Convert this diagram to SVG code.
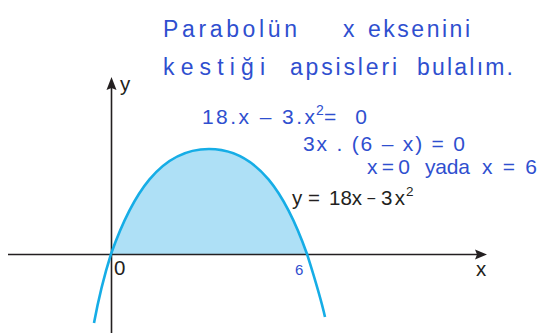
<svg xmlns="http://www.w3.org/2000/svg" width="539" height="333" viewBox="0 0 539 333">
<style>
.hw{font-family:"Liberation Sans","DejaVu Sans",sans-serif;font-size:21px;fill:#2f4fcf;}
.big{font-size:23px;}
.lb{font-family:"Liberation Sans",Arial,sans-serif;font-size:20.5px;fill:#231f20;}
.ax{stroke:#231f20;stroke-width:1.6;fill:none;}
.ah{fill:#231f20;}
</style>
<rect width="539" height="333" fill="#ffffff"/>
<g id="area">
<path d="M111,254 C132,195 160,149 209,149 C258,149 286,195 307,254 Z" fill="#aee0f6"/>
</g>
<g id="axes">
<line class="ax" x1="8" y1="254.5" x2="477" y2="254.5"/>
<polygon class="ah" points="487,254.5 475,249.5 477,254.5 475,259.5"/>
<line class="ax" x1="111.5" y1="333" x2="111.5" y2="88"/>
<polygon class="ah" points="111.5,77 106.5,90 111.5,88 116.5,90"/>
</g>
<g id="curve">
<path d="M94,323 C99,296 105,273 111,254 C132,195 160,149 209,149 C258,149 286,195 307,254 C313,273 320,295 325,317" fill="none" stroke="#16ade6" stroke-width="2.6"/>
</g>
<g id="labels">
<text class="lb" x="120" y="91">y</text>
<text class="lb" x="476" y="276">x</text>
<text class="lb" x="114" y="275">0</text>
<text class="lb" x="292" y="205">y</text>
<text class="lb" x="308" y="205">=</text>
<text class="lb" x="329" y="205">18x</text>
<text class="lb" x="366.5" y="204" style="font-size:16px">−</text>
<text class="lb" x="381" y="205" textLength="24" lengthAdjust="spacing">3x</text>
<text class="lb" x="406" y="196" style="font-size:13.5px">2</text>
</g>
<g id="handwriting">
<text class="hw big" x="163" y="37" textLength="134" lengthAdjust="spacing">Parabolün</text>
<text class="hw big" x="343" y="37">x</text>
<text class="hw big" x="368" y="37" textLength="102" lengthAdjust="spacing">eksenini</text>
<text class="hw big" x="163" y="75" textLength="102" lengthAdjust="spacing">kestiği</text>
<text class="hw big" x="290" y="75" textLength="107" lengthAdjust="spacing">apsisleri</text>
<text class="hw big" x="417" y="75" textLength="96" lengthAdjust="spacing">bulalım.</text>
<text class="hw" x="202" y="124" textLength="113" lengthAdjust="spacing">18.x – 3.x</text>
<text class="hw" x="316" y="115" style="font-size:14px">2</text>
<text class="hw" x="324" y="124" textLength="43" lengthAdjust="spacing">=0</text>
<text class="hw" x="303" y="151" textLength="162" lengthAdjust="spacing">3x . (6 – x) = 0</text>
<text class="hw" x="367" y="174" textLength="43" lengthAdjust="spacing">x=0</text>
<text class="hw" x="425" y="174" textLength="45" lengthAdjust="spacing">yada</text>
<text class="hw" x="482" y="174" textLength="55" lengthAdjust="spacing">x=6</text>
<text class="hw" x="295" y="275" style="font-size:15px">6</text>
</g>
</svg>
